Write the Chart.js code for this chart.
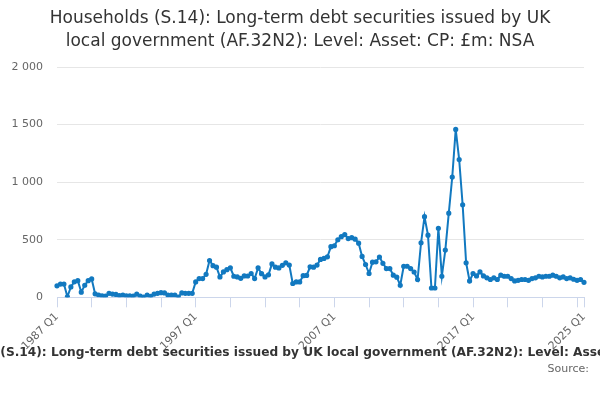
<!DOCTYPE html>
<html>
<head>
<meta charset="utf-8">
<script src="https://cdn.jsdelivr.net/npm/chart.js@4"></script>
<style>
  body { margin: 0; background: #fff; }
  #wrap { width: 600px; height: 400px; }
</style>
</head>
<body>
<div id="wrap"><canvas id="chart"></canvas></div>
<script>
const titleLines = ['Households (S.14): Long-term debt securities issued by UK', 'local government (AF.32N2): Level: Asset: CP: £m: NSA'];
const axisTitle = 'Households (S.14): Long-term debt securities issued by UK local government (AF.32N2): Level: Asset: CP: £m: NSA';
const sourceText = 'Source:';

const startYear = 1987;
const endYear = 2025;

// quarterly values, £m, 1987 Q1 .. 2025 Q1
const values1987 = [100, 115, 115, 5, 90, 135, 145, 45, 105, 145, 160, 30, 20, 12, 10, 35, 28, 25, 15, 20];
const values1992 = [12, 12, 10, 28, 10, 2, 20, 8, 28, 35, 40, 38, 20, 20, 20, 3, 38, 35, 35, 35];
const values1997 = [134, 163, 163, 200, 320, 275, 262, 177, 221, 240, 256, 183, 177, 165, 186, 185, 207, 163, 256, 205];
const values2002 = [177, 195, 290, 262, 255, 278, 300, 280, 120, 134, 134, 188, 190, 265, 262, 280, 329, 338, 352, 440];
const values2007 = [448, 500, 527, 545, 510, 518, 505, 470, 355, 285, 207, 305, 308, 350, 295, 250, 250, 192, 175, 105];
const values2012 = [270, 270, 250, 220, 155, 474, 700, 540, 81, 81, 600, 183, 410, 731, 1045, 1458, 1196, 803, 300, 142];
const values2017 = [207, 186, 221, 186, 169, 155, 169, 155, 192, 183, 183, 163, 142, 148, 155, 155, 148, 163, 169, 183];
const values2022 = [177, 183, 183, 192, 183, 169, 177, 163, 169, 157, 148, 155, 130];

const values = [].concat(values1987, values1992, values1997, values2002, values2007, values2012, values2017, values2022);

const quarters = [];
for (let y = startYear; y <= endYear; y++) {
  for (let q = 1; q <= 4; q++) {
    if (y === endYear && q > 1) break;
    quarters.push(y + ' Q' + q);
  }
}

const yTicks = [0, 500, 1000, 1500, 2000];
const lastIndex = quarters.length - 1;

// title on top, axis title + source under the x axis (overflows the canvas like the original)
const texts = {
  id: 'texts',
  afterDraw(chart) {
    const ctx = chart.ctx;
    ctx.save();
    ctx.textBaseline = 'middle';
    ctx.textAlign = 'center';
    ctx.fillStyle = '#333';
    ctx.font = '17px "DejaVu Sans"';
    ctx.fillText(titleLines[0], 300, 19);
    ctx.fillText(titleLines[1], 300, 42);
    ctx.font = 'bold 12.2px "DejaVu Sans"';
    ctx.fillText(axisTitle, 311, 353);
    ctx.textAlign = 'right';
    ctx.fillStyle = '#666';
    ctx.font = '11px "DejaVu Sans"';
    ctx.fillText(sourceText, 589, 369);
    ctx.restore();
  }
};

new Chart(document.getElementById('chart'), {
  type: 'line',
  data: {
    labels: quarters,
    datasets: [{
      data: values,
      borderColor: '#1279c0',
      backgroundColor: '#1279c0',
      borderWidth: 2,
      pointRadius: 1.6,
      pointHoverRadius: 3,
      tension: 0
    }]
  },
  options: {
    responsive: true,
    maintainAspectRatio: false,
    animation: false,
    layout: { padding: { left: 0, right: 16, top: 67, bottom: 44 } },
    plugins: {
      legend: { display: false },
      tooltip: { enabled: false },
      title: { display: false }
    },
    scales: {
      x: {
        type: 'category',
        grid: { drawOnChartArea: false, color: '#ccd6eb', tickLength: 10, offset: false },
        border: { color: '#ccd6eb' },
        offset: false,
        afterBuildTicks(scale) {
          scale.ticks = scale.ticks.filter(t => t.value % 10 === 0 || t.value === lastIndex);
        },
        ticks: {
          autoSkip: false,
          maxRotation: 45,
          minRotation: 45,
          color: '#666',
          font: { family: '"DejaVu Sans"', size: 11 },
          callback(val) {
            return (val % 40 === 0 || val === lastIndex) ? quarters[val] : '';
          }
        }
      },
      y: {
        min: 0,
        max: 2000,
        afterFit(scale) { scale.width = 57; },
        afterBuildTicks(scale) {
          scale.ticks = yTicks.map(v => ({ value: v }));
        },
        grid: { color: '#e6e6e6', drawTicks: false },
        border: { display: false },
        ticks: {
          padding: 14,
          color: '#666',
          font: { family: '"DejaVu Sans"', size: 11 },
          callback(val) {
            return val >= 1000 ? Math.floor(val / 1000) + ' ' + String(val % 1000).padStart(3, '0') : String(val);
          }
        }
      }
    }
  },
  plugins: [texts]
});
</script>
</body>
</html>
